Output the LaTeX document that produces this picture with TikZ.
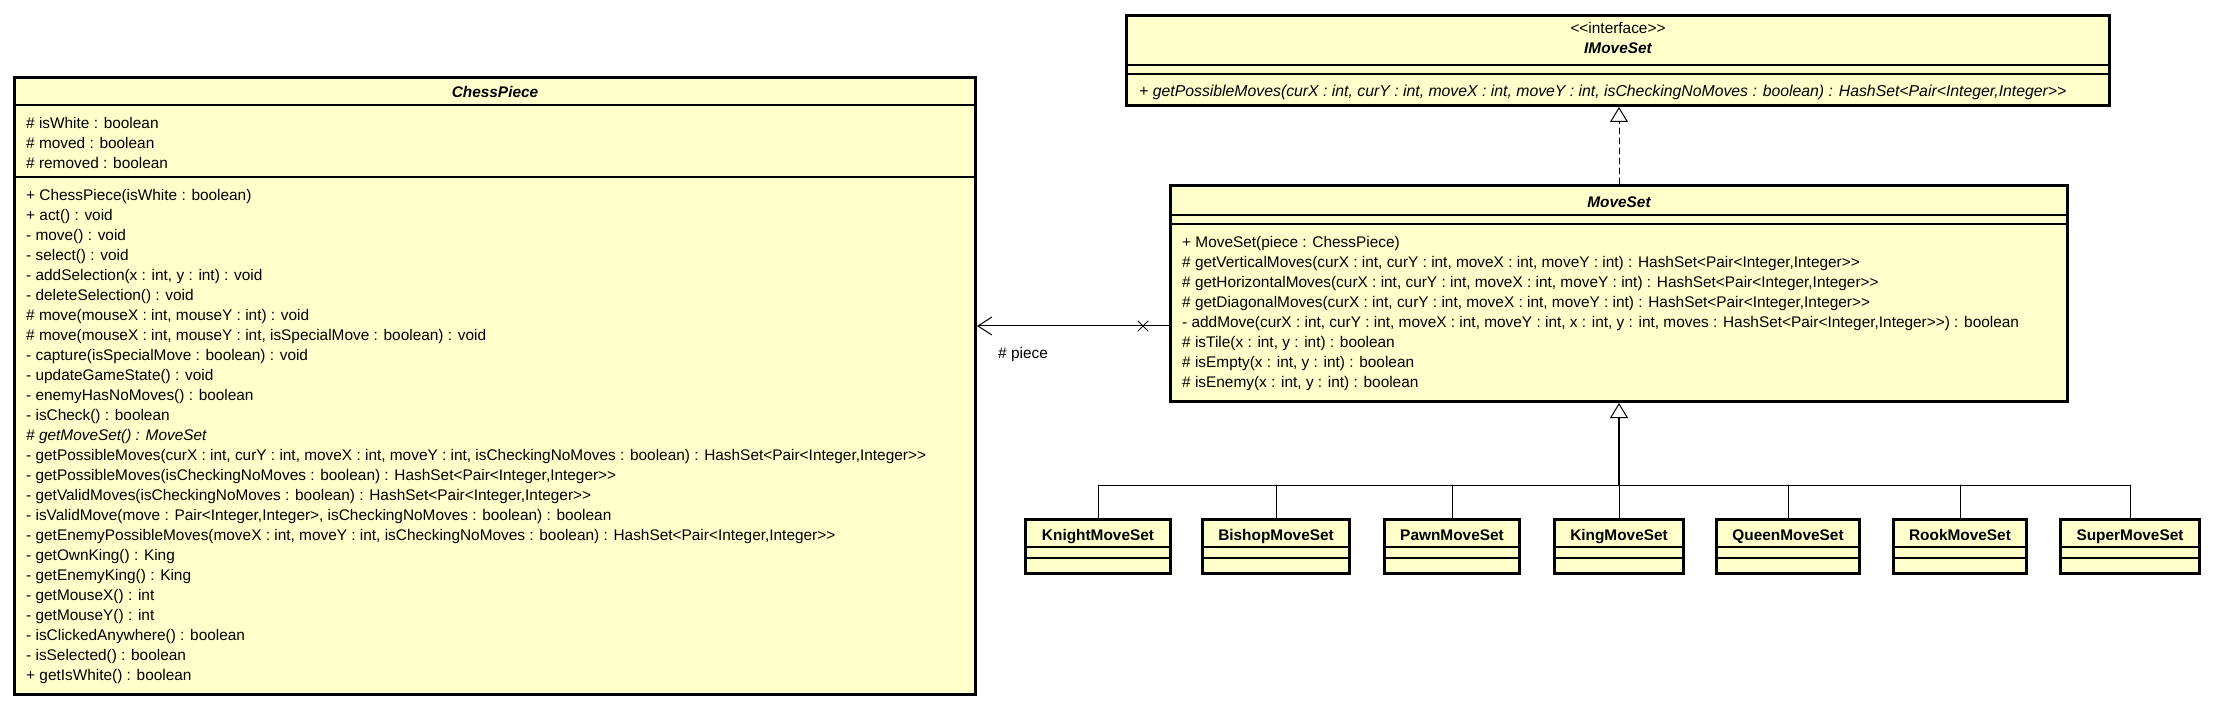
\documentclass[tikz,border=0pt]{standalone}
\usepackage{fontspec}
\newfontfamily\umlfamily{Liberation Sans}
\usetikzlibrary{arrows.meta}
\definecolor{umlyellow}{RGB}{255,255,204}
\newcommand{\umlfont}{\umlfamily\fontsize{15.4}{20}\selectfont}

\begin{document}
\begin{tikzpicture}[line cap=round,line join=round,x=1pt,y=-1pt,
	classbox/.style={draw,line width=3pt,line join=miter,fill=umlyellow,inner sep=0pt},
	leafbox/.style={classbox,font=\umlfont\bfseries,inner xsep=16pt,text height=20.5pt,text depth=33.5pt},
	compline/.style={line width=1.2pt,line cap=butt},
	classname/.style={anchor=base,inner sep=0pt,font=\umlfont\bfseries\itshape},
	memberlist/.style={anchor=north west,align=left,inner sep=0pt,font=\umlfont},
	thinline/.style={line width=1pt},
	realizes/.style={thinline,dash pattern=on 6pt off 4pt,-{Triangle[length=15pt,width=18pt,fill=white]}},
	extends/.style={line width=2pt,-{Triangle[length=15pt,width=18pt,fill=white,line width=1pt]}},
	navigable/.style={thinline,-{Straight Barb[length=14pt,width=18pt]}}]
	\useasboundingbox (0,0) rectangle (2213,708);
	% class boxes
	\node[classbox,minimum width=961pt,minimum height=617pt] (chesspiece) at (495,386) {};
	\node[classbox,minimum width=983pt,minimum height=90pt] (imoveset) at (1618,60.5) {};
	\node[classbox,minimum width=897pt,minimum height=216pt] (moveset) at (1619,293.5) {};
	% compartments
	\draw[compline] ([yshift=-29pt]chesspiece.north west) -- ([yshift=-29pt]chesspiece.north east);
	\draw[compline] ([yshift=-101pt]chesspiece.north west) -- ([yshift=-101pt]chesspiece.north east);
	\draw[compline] ([yshift=-51pt]imoveset.north west) -- ([yshift=-51pt]imoveset.north east);
	\draw[compline] ([yshift=-60pt]imoveset.north west) -- ([yshift=-60pt]imoveset.north east);
	\draw[compline] ([yshift=-31pt]moveset.north west) -- ([yshift=-31pt]moveset.north east);
	\draw[compline] ([yshift=-40pt]moveset.north west) -- ([yshift=-40pt]moveset.north east);
	% names
	\node[classname] (chesspiece-name) at (495,97.5) {ChessPiece};
	\node[anchor=base,inner sep=0pt,font=\umlfont] (imoveset-stereo) at (1618,34) {<<interface>>};
	\node[classname] (imoveset-name) at (1618,54) {IMoveSet};
	\node[classname] (moveset-name) at (1619,207.5) {MoveSet};
	% members
	\node[memberlist] (chesspiece-attrs) at (26,114.5) {\strut\# isWhite : boolean\\
		\# moved : boolean\\
		\# removed : boolean};
	\node[memberlist] (chesspiece-ops) at (26,186.5) {\strut+ ChessPiece(isWhite : boolean)\\
		+ act() : void\\
		- move() : void\\
		- select() : void\\
		- addSelection(x : int, y : int) : void\\
		- deleteSelection() : void\\
		\# move(mouseX : int, mouseY : int) : void\\
		\# move(mouseX : int, mouseY : int, isSpecialMove : boolean) : void\\
		- capture(isSpecialMove : boolean) : void\\
		- updateGameState() : void\\
		- enemyHasNoMoves() : boolean\\
		- isCheck() : boolean\\
		\textit{\# getMoveSet() : MoveSet}\\
		- getPossibleMoves(curX : int, curY : int, moveX : int, moveY : int, isCheckingNoMoves : boolean) : HashSet<Pair<Integer,Integer>>\\
		- getPossibleMoves(isCheckingNoMoves : boolean) : HashSet<Pair<Integer,Integer>>\\
		- getValidMoves(isCheckingNoMoves : boolean) : HashSet<Pair<Integer,Integer>>\\
		- isValidMove(move : Pair<Integer,Integer>, isCheckingNoMoves : boolean) : boolean\\
		- getEnemyPossibleMoves(moveX : int, moveY : int, isCheckingNoMoves : boolean) : HashSet<Pair<Integer,Integer>>\\
		- getOwnKing() : King\\
		- getEnemyKing() : King\\
		- getMouseX() : int\\
		- getMouseY() : int\\
		- isClickedAnywhere() : boolean\\
		- isSelected() : boolean\\
		+ getIsWhite() : boolean};
	\node[memberlist,font=\umlfamily\fontsize{15.8}{20}\selectfont\itshape] (imoveset-ops) at (1139,82.5) {\strut+ getPossibleMoves(curX : int, curY : int, moveX : int, moveY : int, isCheckingNoMoves : boolean) : HashSet<Pair<Integer,Integer>>};
	\node[memberlist] (moveset-ops) at (1182,233.5) {\strut+ MoveSet(piece : ChessPiece)\\
		\# getVerticalMoves(curX : int, curY : int, moveX : int, moveY : int) : HashSet<Pair<Integer,Integer>>\\
		\# getHorizontalMoves(curX : int, curY : int, moveX : int, moveY : int) : HashSet<Pair<Integer,Integer>>\\
		\# getDiagonalMoves(curX : int, curY : int, moveX : int, moveY : int) : HashSet<Pair<Integer,Integer>>\\
		- addMove(curX : int, curY : int, moveX : int, moveY : int, x : int, y : int, moves : HashSet<Pair<Integer,Integer>>) : boolean\\
		\# isTile(x : int, y : int) : boolean\\
		\# isEmpty(x : int, y : int) : boolean\\
		\# isEnemy(x : int, y : int) : boolean};
	% subclasses
	\node[leafbox,anchor=north] (knight) at (1098,518) {KnightMoveSet};
	\node[leafbox,anchor=north] (bishop) at (1276,518) {BishopMoveSet};
	\node[leafbox,anchor=north] (pawn) at (1452,518) {PawnMoveSet};
	\node[leafbox,anchor=north] (king) at (1619,518) {KingMoveSet};
	\node[leafbox,anchor=north] (queen) at (1788,518) {QueenMoveSet};
	\node[leafbox,anchor=north] (rook) at (1960,518) {RookMoveSet};
	\node[leafbox,anchor=north] (super) at (2130,518) {SuperMoveSet};
	\foreach \leaf in {knight,bishop,pawn,king,queen,rook,super} {
		\draw[compline] ([yshift=-29pt]\leaf.north west) -- ([yshift=-29pt]\leaf.north east);
		\draw[compline] ([yshift=-40pt]\leaf.north west) -- ([yshift=-40pt]\leaf.north east);
	}
	% connectors
	\draw[realizes] (moveset.north) -- (moveset.north |- imoveset.south);
	\coordinate (bus) at ([yshift=33pt]king.north);
	\draw[thinline] (knight.north |- bus) -- (super.north |- bus);
	\foreach \leaf in {knight,bishop,pawn,king,queen,rook,super}
		\draw[thinline] (\leaf.north) -- (\leaf.north |- bus);
	\draw[extends] (bus) -- (moveset.south);
	\coordinate (assocend) at ([yshift=-32.5pt]moveset.west);
	\draw[navigable] (assocend) -- (assocend -| chesspiece.east);
	\coordinate (ownedend) at ([xshift=-26pt]assocend);
	\draw[thinline] (ownedend) +(-5,-5) -- +(5,5) +(-5,5) -- +(5,-5);
	\node[anchor=base west,inner sep=0pt,font=\umlfont] (piecerole) at (998,358.5) {\# piece};
\end{tikzpicture}
\end{document}
